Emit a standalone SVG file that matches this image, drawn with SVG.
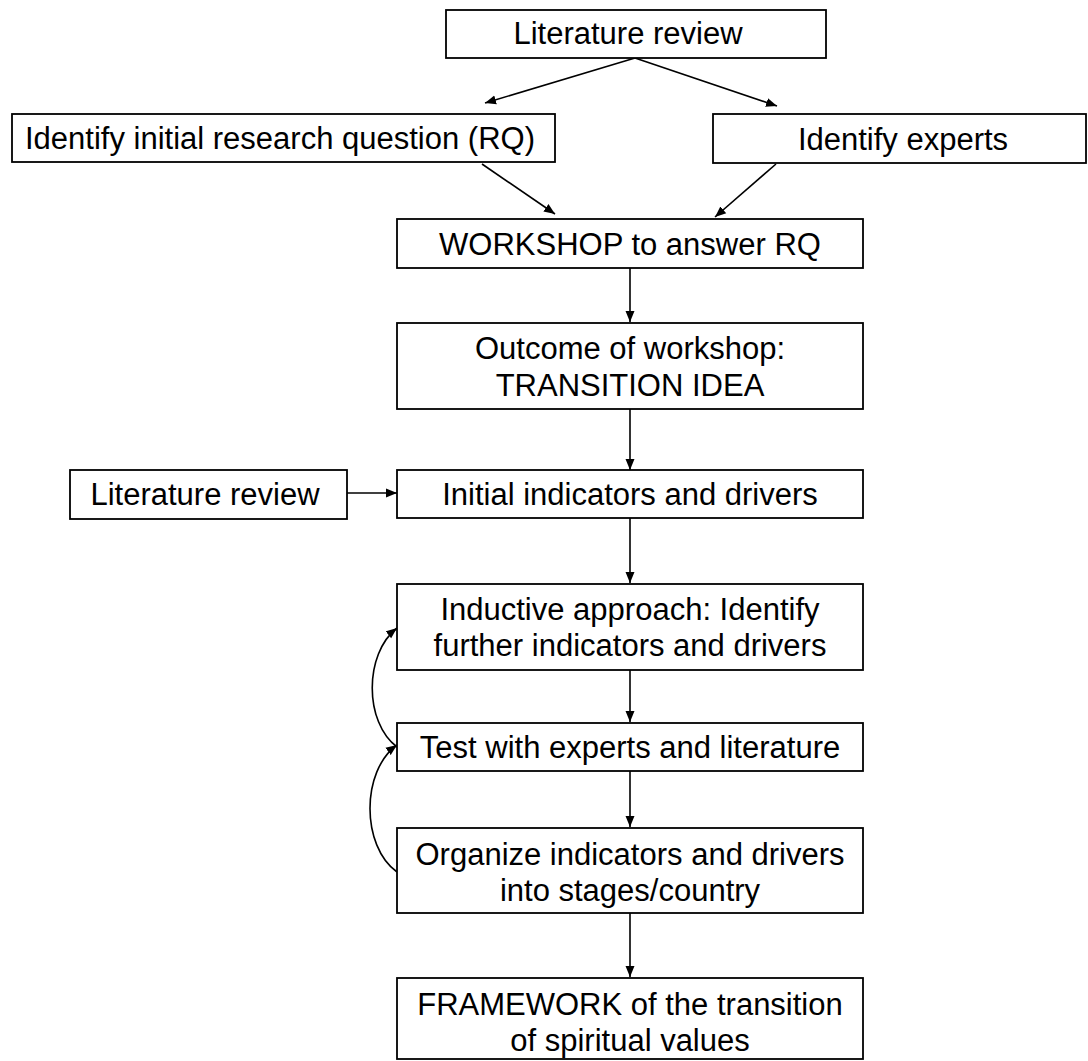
<svg xmlns="http://www.w3.org/2000/svg" width="1088" height="1061" viewBox="0 0 1088 1061">
<defs>
<style>
.box{fill:#fff;stroke:#000;stroke-width:1.8}
.t{font-family:"Liberation Sans",Arial,sans-serif;font-size:31px;fill:#000;text-anchor:middle}
.c{fill:none;stroke:#000;stroke-width:1.6;marker-end:url(#ah)}
</style>
<marker id="ah" markerWidth="12" markerHeight="10" refX="11" refY="5" orient="auto" markerUnits="userSpaceOnUse">
<path d="M0,0.5 L11,5 L0,9.5 z" fill="#000"/>
</marker>
</defs>
<rect width="1088" height="1061" fill="#fff"/>
<g id="connectors">
<line class="c" x1="635" y1="58" x2="485" y2="103"/>
<line class="c" x1="635" y1="58" x2="777" y2="106"/>
<line class="c" x1="482" y1="164" x2="555" y2="214"/>
<line class="c" x1="776" y1="164" x2="715" y2="217"/>
<line class="c" x1="630" y1="268" x2="630" y2="322"/>
<line class="c" x1="630" y1="409" x2="630" y2="470"/>
<line class="c" x1="347" y1="493" x2="397" y2="493"/>
<line class="c" x1="630" y1="518" x2="630" y2="583"/>
<line class="c" x1="630" y1="670" x2="630" y2="722"/>
<line class="c" x1="630" y1="771" x2="630" y2="827"/>
<line class="c" x1="630" y1="913" x2="630" y2="977"/>
<path class="c" d="M397,747 C364,722 364,654 397,628"/>
<path class="c" d="M397,872 C361,846 361,771 397,745"/>
</g>
<g id="n1"><rect class="box" x="446" y="10" width="380" height="48"/><text class="t" x="628" y="44">Literature review</text></g>
<g id="n2"><rect class="box" x="12" y="114" width="543" height="48"/><text class="t" x="280" y="149">Identify initial research question (RQ)</text></g>
<g id="n3"><rect class="box" x="713" y="114" width="373" height="49"/><text class="t" x="903" y="150">Identify experts</text></g>
<g id="n4"><rect class="box" x="397" y="219" width="466" height="49"/><text class="t" x="630" y="255">WORKSHOP to answer RQ</text></g>
<g id="n5"><rect class="box" x="397" y="323" width="466" height="86"/><text class="t" x="630" y="359">Outcome of workshop:</text><text class="t" x="630" y="396">TRANSITION IDEA</text></g>
<g id="n6"><rect class="box" x="70" y="470" width="277" height="49"/><text class="t" x="205" y="505">Literature review</text></g>
<g id="n7"><rect class="box" x="397" y="470" width="466" height="48"/><text class="t" x="630" y="505">Initial indicators and drivers</text></g>
<g id="n8"><rect class="box" x="397" y="584" width="466" height="86"/><text class="t" x="630" y="620">Inductive approach: Identify</text><text class="t" x="630" y="656">further indicators and drivers</text></g>
<g id="n9"><rect class="box" x="397" y="723" width="466" height="48"/><text class="t" x="630" y="758">Test with experts and literature</text></g>
<g id="n10"><rect class="box" x="397" y="828" width="466" height="85"/><text class="t" x="630" y="865">Organize indicators and drivers</text><text class="t" x="630" y="901">into stages/country</text></g>
<g id="n11"><rect class="box" x="397" y="978" width="466" height="81"/><text class="t" x="630" y="1015">FRAMEWORK of the transition</text><text class="t" x="630" y="1051">of spiritual values</text></g>
</svg>
